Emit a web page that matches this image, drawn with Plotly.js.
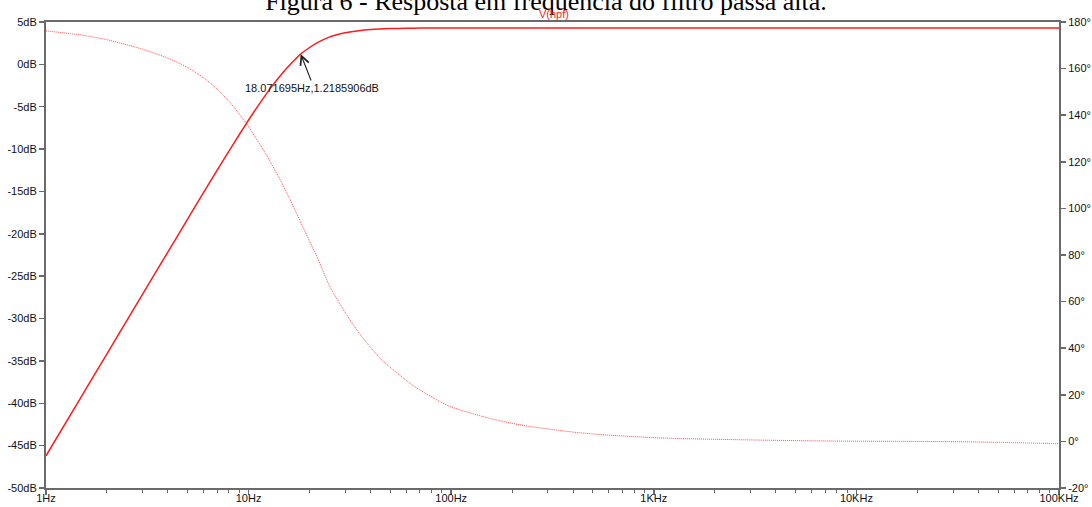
<!DOCTYPE html>
<html>
<head>
<meta charset="utf-8">
<script src="https://cdn.plot.ly/plotly-3.0.1.min.js"></script>
<style>html,body{margin:0;padding:0;background:#fff;}#chart{width:1092px;height:507px;}</style>
</head>
<body>
<div id="chart"></div>
<script>
// Frequency (Hz) and magnitude (dB) of V(hpf)
const magFreq = [1, 1.5, 2, 3, 4, 5, 6, 7, 8, 9, 10, 11, 12, 13, 14, 15, 16, 17, 18.071695, 20, 22, 25, 27, 30, 35, 40, 50, 60, 70, 100, 200, 500, 1000, 10000, 100000];
const magDb   = [-46.2, -39.16, -34.16, -27.12, -22.13, -18.26, -15.12, -12.49, -10.23, -8.28, -6.57, -5.07, -3.77, -2.63, -1.64, -0.77, -0.04, 0.6, 1.2185906, 1.99, 2.6, 3.21, 3.47, 3.73, 3.98, 4.11, 4.22, 4.26, 4.28, 4.3, 4.3, 4.3, 4.3, 4.3, 4.3];
// Frequency (Hz) and phase (degrees) of V(hpf)
const phFreq = [1, 1.5, 2, 3, 4, 5, 6, 7, 8, 9, 10, 12, 14, 16, 18, 20, 22, 25, 30, 36, 45, 65, 96, 140, 177, 240, 400, 550, 1000, 1370, 3700, 7900, 28600, 50000, 100000];
const phDeg  = [176.2, 174.4, 172.4, 168.3, 164.5, 160.5, 156.0, 151.2, 146.0, 140.5, 135.0, 124.2, 113.9, 103.9, 94.4, 85.9, 78.3, 67.0, 55.3, 45.2, 35.3, 23.9, 15.4, 10.9, 8.7, 6.5, 4.0, 2.9, 1.6, 1.2, 0.5, 0.15, -0.1, -0.4, -1.0];

// Axis ticks
const xTickVals = [1, 10, 100, 1000, 10000, 100000];
const xTickText = ["1Hz", "10Hz", "100Hz", "1KHz", "10KHz", "100KHz"];
const xMinorVals = [2,3,4,5,6,7,8,9, 20,30,40,50,60,70,80,90, 200,300,400,500,600,700,800,900, 2000,3000,4000,5000,6000,7000,8000,9000, 20000,30000,40000,50000,60000,70000,80000,90000];
const dbTickVals = [-50, -45, -40, -35, -30, -25, -20, -15, -10, -5, 0, 5];
const dbTickText = ["-50dB", "-45dB", "-40dB", "-35dB", "-30dB", "-25dB", "-20dB", "-15dB", "-10dB", "-5dB", "0dB", "5dB"];
const degTickVals = [-20, 0, 20, 40, 60, 80, 100, 120, 140, 160, 180];
const degTickText = ["-20°", "0°", "20°", "40°", "60°", "80°", "100°", "120°", "140°", "160°", "180°"];

const cursorF = 18.071695, cursorDb = 1.2185906;
const titleText = "Figura 6 - Resposta em frequência do filtro passa alta.";
const traceName = "V(hpf)";

const axisColor = "#6a6a6a";
const tickFont = {family: "Liberation Sans, Arial, sans-serif", size: 11, color: "#111"};

const traces = [
  {x: magFreq, y: magDb, type: "scatter", mode: "lines", name: traceName,
   line: {color: "#ff1a1a", width: 1.5, shape: "spline", smoothing: 0.6}, yaxis: "y"},
  {x: phFreq, y: phDeg, type: "scatter", mode: "lines", name: traceName + " phase",
   line: {color: "rgba(255,30,30,0.8)", width: 1, dash: "1px,1px", shape: "spline", smoothing: 0.6}, yaxis: "y2"}
];

const layout = {
  width: 1092, height: 507,
  margin: {l: 46, r: 33, t: 22, b: 19},
  paper_bgcolor: "#fff", plot_bgcolor: "#fff",
  showlegend: false,
  title: {text: titleText, font: {family: "Liberation Serif, Times New Roman, serif", size: 26, color: "#000"},
          x: 0.5, xanchor: "center", yref: "container", y: 0.998, yanchor: "middle"},
  xaxis: {type: "log", range: [0, 5], tickmode: "array", tickvals: xTickVals, ticktext: xTickText,
          ticks: "outside", ticklen: 5, tickwidth: 1.5, tickcolor: axisColor, ticklabelstandoff: -6,
          showline: true, linecolor: axisColor, linewidth: 2, mirror: true,
          showgrid: false, zeroline: false, tickfont: tickFont,
          minor: {tickmode: "array", tickvals: xMinorVals, ticks: "outside", ticklen: 3, tickwidth: 1, tickcolor: axisColor, showgrid: false}},
  yaxis: {range: [-50, 5], tickmode: "array", tickvals: dbTickVals, ticktext: dbTickText,
          ticks: "outside", ticklen: 5, tickwidth: 1.5, tickcolor: axisColor,
          showline: true, linecolor: axisColor, linewidth: 2,
          showgrid: false, zeroline: false, tickfont: tickFont},
  yaxis2: {range: [-20, 180], overlaying: "y", side: "right", tickmode: "array", tickvals: degTickVals, ticktext: degTickText,
           ticks: "outside", ticklen: 5, tickwidth: 1.5, tickcolor: axisColor,
           showline: true, linecolor: axisColor, linewidth: 2,
           showgrid: false, zeroline: false, tickfont: tickFont},
  annotations: [
    {xref: "paper", yref: "paper", x: 0.501, y: 1.0, yanchor: "bottom", xanchor: "center", showarrow: false,
     text: traceName, font: {family: "Liberation Sans, Arial, sans-serif", size: 11, color: "#ff2020"}},
    {x: Math.log10(cursorF), y: cursorDb, xref: "x", yref: "y", text: "", showarrow: true,
     arrowhead: 5, arrowsize: 1.6, arrowwidth: 1.1, arrowcolor: "#222", ax: 11, ay: 28},
    {x: Math.log10(cursorF), y: cursorDb, xref: "x", yref: "y", showarrow: false,
     text: cursorF.toFixed(6) + "Hz," + cursorDb.toFixed(7) + "dB",
     xshift: -58, yshift: -34, xanchor: "left", yanchor: "middle",
     font: {family: "Liberation Sans, Arial, sans-serif", size: 11, color: "#111"}}
  ]
};

Plotly.newPlot("chart", traces, layout, {staticPlot: true, displayModeBar: false});
</script>
</body>
</html>
